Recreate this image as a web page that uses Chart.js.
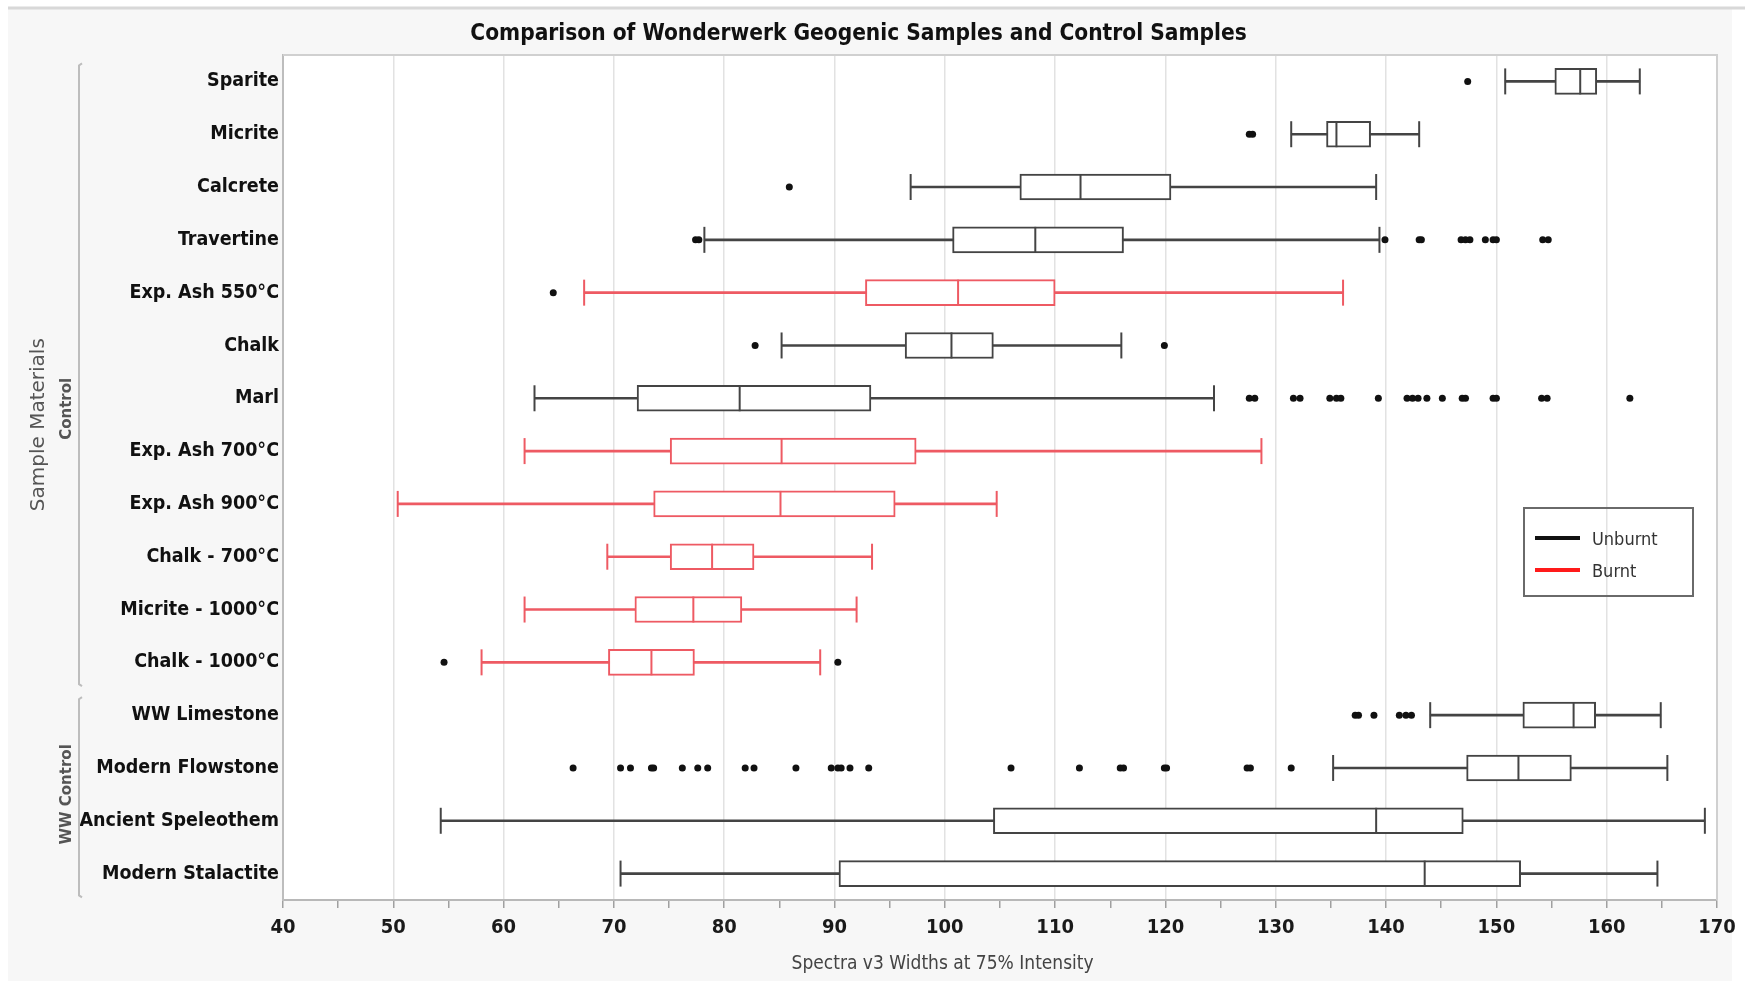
<!DOCTYPE html>
<html lang="en">
<head>
    <meta charset="UTF-8">
    <title>Comparison of Wonderwerk Geogenic Samples and Control Samples</title>
    <script src="https://cdn.jsdelivr.net/npm/chart.js"></script>
    <style>
        * {
            margin: 0;
            padding: 0;
            box-sizing: border-box;
        }

        body {
            background-color: #ffffff;
            width: 1745px;
            height: 981px;
            overflow: hidden;
        }

        .chart-container {
            position: relative;
            width: 1745px;
            height: 981px;
        }
    </style>
</head>
<body>
    <div class="chart-container">
        <canvas id="boxChart"></canvas>
    </div>

    <script>
        const categories = [
            'Sparite', 'Micrite', 'Calcrete', 'Travertine', 'Exp. Ash 550°C', 'Chalk', 'Marl',
            'Exp. Ash 700°C', 'Exp. Ash 900°C', 'Chalk - 700°C', 'Micrite - 1000°C', 'Chalk - 1000°C',
            'WW Limestone', 'Modern Flowstone', 'Ancient Speleothem', 'Modern Stalactite'
        ];
        const whiskerLow  = [150.8, 131.4,  96.9,  78.2,  67.3,  85.2,  62.8, 61.9, 50.4, 69.4, 61.9, 58.0, 144.0, 135.2,  54.3,  70.6];
        const q1          = [155.3, 134.6, 106.8, 100.7,  92.8,  96.4,  72.1, 75.1, 73.6, 75.1, 71.9, 69.5, 152.4, 147.3, 104.4,  90.4];
        const median      = [157.6, 135.5, 112.3, 108.2, 101.2, 100.6,  81.4, 85.2, 85.1, 78.9, 77.2, 73.4, 157.0, 152.0, 139.1, 143.5];
        const q3          = [159.1, 138.6, 120.5, 116.2, 110.0, 104.4,  93.3, 97.4, 95.5, 82.7, 81.6, 77.3, 159.0, 156.8, 147.0, 152.2];
        const whiskerHigh = [163.0, 143.0, 139.1, 139.4, 136.1, 116.0, 124.4, 128.7, 104.7, 93.4, 92.0, 88.7, 164.9, 165.5, 168.9, 164.6];
        const burnt = [false, false, false, false, true, false, false, true, true, true, true, true, false, false, false, false];
        const outliers = [
            [147.4],
            [127.6, 127.9],
            [85.9],
            [77.4, 77.7, 139.9, 143.0, 143.2, 146.8, 147.2, 147.6, 149.0, 149.7, 150.0, 154.2, 154.7],
            [64.5],
            [82.8, 119.9],
            [127.6, 128.1, 131.6, 132.2, 134.9, 135.5, 135.9, 139.3, 141.9, 142.4, 142.9, 143.7, 145.1,
             146.9, 147.2, 149.7, 150.0, 154.1, 154.6, 162.1],
            [],
            [],
            [],
            [],
            [54.6, 90.3],
            [137.2, 137.5, 138.9, 141.2, 141.8, 142.3],
            [66.3, 70.6, 71.5, 73.4, 73.6, 76.2, 77.6, 78.5, 81.9, 82.7, 86.5, 89.7, 90.3, 90.6, 91.4, 93.1,
             106.0, 112.2, 115.9, 116.2, 119.9, 120.1, 127.4, 127.7, 131.4],
            [],
            []
        ];
        const groupNames = ['Control', 'WW Control'];
        const groupFirst = [0, 12];
        const groupLast = [11, 15];
        const legendLabels = ['Unburnt', 'Burnt'];

        const NARROW = "'DejaVu Sans Condensed', 'Liberation Sans Narrow', sans-serif";
        const WIDE = "'DejaVu Sans', Verdana, sans-serif";
        const unburntColor = '#444444';
        const burntColor = '#ee5a63';
        const lineColors = burnt.map(b => b ? burntColor : unburntColor);

        const medianPoints = categories.map((c, i) => ({ x: median[i], y: c }));
        const capPoints = [];
        const capColors = [];
        categories.forEach((c, i) => {
            capPoints.push({ x: whiskerLow[i], y: c }, { x: whiskerHigh[i], y: c });
            capColors.push(lineColors[i], lineColors[i]);
        });
        const outlierPoints = [];
        outliers.forEach((vals, i) => vals.forEach(v => outlierPoints.push({ x: v, y: categories[i] })));

        // backgrounds, brackets, group labels, axis title and legend
        const decor = {
            id: 'decor',
            beforeDraw(chart) {
                const { ctx, chartArea: a } = chart;
                ctx.save();
                ctx.fillStyle = '#f7f7f7';
                ctx.fillRect(8, 9, 1724, 972);
                ctx.strokeStyle = '#d8d8d8';
                ctx.lineWidth = 3;
                ctx.beginPath();
                ctx.moveTo(8, 8);
                ctx.lineTo(1745, 8);
                ctx.stroke();
                ctx.fillStyle = '#ffffff';
                ctx.fillRect(a.left, a.top, a.right - a.left, a.bottom - a.top);
                ctx.restore();
            },
            afterDraw(chart) {
                const { ctx, chartArea: a, scales: { y } } = chart;
                const step = y.getPixelForValue(1) - y.getPixelForValue(0);
                ctx.save();

                // top and right frame of the plot
                ctx.strokeStyle = '#d0d0d0';
                ctx.lineWidth = 2;
                ctx.beginPath();
                ctx.moveTo(a.left, a.top);
                ctx.lineTo(a.right, a.top);
                ctx.lineTo(a.right, a.bottom);
                ctx.stroke();

                // group brackets
                ctx.strokeStyle = '#bdbdbd';
                ctx.lineWidth = 2;
                groupNames.forEach((name, g) => {
                    const top = y.getPixelForValue(groupFirst[g]) - 0.34 * step;
                    const bottom = y.getPixelForValue(groupLast[g]) + 0.45 * step;
                    ctx.beginPath();
                    ctx.moveTo(82, top);
                    ctx.lineTo(79, top + 2);
                    ctx.lineTo(79, bottom - 2);
                    ctx.lineTo(82, bottom);
                    ctx.stroke();
                });

                ctx.fillStyle = '#555555';
                ctx.textAlign = 'center';
                ctx.textBaseline = 'middle';
                const labelAt = [6.2, 13.5];
                groupNames.forEach((name, g) => {
                    ctx.save();
                    ctx.translate(67, y.getPixelForValue(0) + labelAt[g] * step);
                    ctx.rotate(-Math.PI / 2);
                    ctx.font = 'bold 15px ' + WIDE;
                    ctx.fillText(name, 0, 0);
                    ctx.restore();
                });

                ctx.save();
                ctx.translate(39, y.getPixelForValue(0) + 6.5 * step);
                ctx.rotate(-Math.PI / 2);
                ctx.font = '20px ' + WIDE;
                ctx.fillStyle = '#555555';
                ctx.fillText('Sample Materials', 0, 0);
                ctx.restore();

                // x axis title
                ctx.font = '19px ' + NARROW;
                ctx.fillStyle = '#444444';
                ctx.fillText('Spectra v3 Widths at 75% Intensity', a.left + 0.46 * (a.right - a.left), 964);

                // legend
                const lx = a.right - 193;
                const ly = 508;
                ctx.strokeStyle = '#6a6a6a';
                ctx.lineWidth = 2;
                ctx.strokeRect(lx, ly, 169, 88);
                const swatch = ['#111111', '#ff1a1a'];
                legendLabels.forEach((label, i) => {
                    const yy = ly + 30 + i * 32;
                    ctx.strokeStyle = swatch[i];
                    ctx.lineWidth = 4;
                    ctx.beginPath();
                    ctx.moveTo(lx + 11, yy);
                    ctx.lineTo(lx + 56, yy);
                    ctx.stroke();
                    ctx.fillStyle = '#333333';
                    ctx.font = '18px ' + NARROW;
                    ctx.textAlign = 'left';
                    ctx.fillText(label, lx + 68, yy + 2);
                });

                ctx.restore();
            }
        };

        const ctx = document.getElementById('boxChart').getContext('2d');
        new Chart(ctx, {
            type: 'bar',
            data: {
                labels: categories,
                datasets: [
                    {
                        type: 'bar',
                        label: 'Whiskers',
                        data: categories.map((c, i) => [whiskerLow[i], whiskerHigh[i]]),
                        backgroundColor: lineColors,
                        borderWidth: 0,
                        barThickness: 2,
                        grouped: false,
                        order: 5
                    },
                    {
                        type: 'bar',
                        label: 'Boxes',
                        data: categories.map((c, i) => [q1[i], q3[i]]),
                        backgroundColor: '#ffffff',
                        borderColor: lineColors,
                        borderWidth: 2,
                        borderSkipped: false,
                        barThickness: 26,
                        grouped: false,
                        order: 4
                    },
                    {
                        type: 'scatter',
                        label: 'Median',
                        data: medianPoints,
                        pointStyle: 'line',
                        pointRotation: 90,
                        pointRadius: 13,
                        pointHoverRadius: 13,
                        pointBorderWidth: 2,
                        pointBorderColor: lineColors,
                        order: 3
                    },
                    {
                        type: 'scatter',
                        label: 'Caps',
                        data: capPoints,
                        pointStyle: 'line',
                        pointRotation: 90,
                        pointRadius: 13,
                        pointHoverRadius: 13,
                        pointBorderWidth: 2,
                        pointBorderColor: capColors,
                        order: 2
                    },
                    {
                        type: 'scatter',
                        label: 'Outliers',
                        data: outlierPoints,
                        pointStyle: 'circle',
                        pointRadius: 3.5,
                        pointHoverRadius: 3.5,
                        pointBackgroundColor: '#111111',
                        pointBorderColor: '#111111',
                        pointBorderWidth: 0,
                        order: 1
                    }
                ]
            },
            options: {
                indexAxis: 'y',
                responsive: true,
                maintainAspectRatio: false,
                animation: false,
                layout: {
                    padding: { left: 0, right: 28, top: 0, bottom: 0 }
                },
                scales: {
                    x: {
                        type: 'linear',
                        min: 40,
                        max: 170,
                        ticks: {
                            stepSize: 5,
                            autoSkip: false,
                            maxRotation: 0,
                            padding: 8,
                            color: '#1a1a1a',
                            font: { family: NARROW, size: 20, weight: 'bold' },
                            callback: v => v % 10 === 0 ? v : ''
                        },
                        grid: {
                            color: c => c.tick && c.tick.value % 10 === 0 ? '#e2e2e2' : 'rgba(0,0,0,0)',
                            tickColor: '#a0a0a0',
                            tickLength: 8,
                            lineWidth: 1.5
                        },
                        border: { color: '#b8b8b8', width: 2 },
                        afterFit: s => { s.height = 81; }
                    },
                    y: {
                        type: 'category',
                        offset: true,
                        grid: { display: false, drawTicks: false },
                        border: { color: '#bdbdbd', width: 2 },
                        ticks: {
                            padding: 4,
                            color: '#111111',
                            font: { family: NARROW, size: 19.5, weight: 'bold' }
                        },
                        afterFit: s => { s.width = 283; }
                    }
                },
                plugins: {
                    legend: { display: false },
                    tooltip: { enabled: false },
                    title: {
                        display: true,
                        text: 'Comparison of Wonderwerk Geogenic Samples and Control Samples',
                        color: '#111111',
                        font: { family: NARROW, size: 22.5, weight: 'bold' },
                        padding: { top: 21, bottom: 7 }
                    }
                }
            },
            plugins: [decor]
        });
    </script>
</body>
</html>
